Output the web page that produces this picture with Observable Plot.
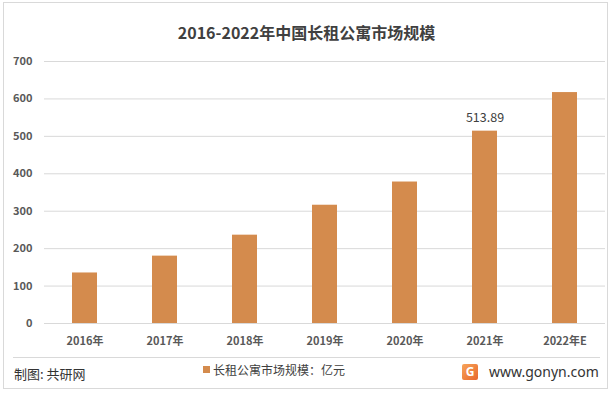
<!DOCTYPE html>
<html>
<head>
<meta charset="utf-8">
<script src="https://cdn.jsdelivr.net/npm/d3@7"></script>
<script src="https://cdn.jsdelivr.net/npm/@observablehq/plot@0.6"></script>
<style>
  html, body { margin: 0; padding: 0; background: #fff; }
  #wrap { position: relative; width: 613px; height: 394px; overflow: hidden; font-family: "Noto Sans CJK SC", "Noto Sans", sans-serif; }
  #frame { position: absolute; left: 3px; top: 2px; width: 605px; height: 387px; border: 1px solid #d9d9d9; box-sizing: border-box; }
  #title { position: absolute; left: 0; width: 613px; top: 20px; text-align: center; font-size: 16px; font-weight: bold; color: #404040; line-height: 24px; }
  #plot { position: absolute; left: 0; top: 0; }
  #sep { position: absolute; left: 13px; top: 357px; width: 587px; height: 1px; background: #d9d9d9; }
  #credit { position: absolute; left: 14px; top: 365px; font-size: 13px; color: #333; line-height: 18px; }
  #legend { position: absolute; left: 203px; top: 361px; font-size: 12px; color: #404040; line-height: 17px; display: flex; align-items: center; }
  #legend .sw { width: 7px; height: 7px; background: #D48B4D; margin-right: 3px; }
  #site { position: absolute; left: 462px; top: 362px; font-size: 14px; color: #333; line-height: 20px; display: flex; align-items: center; font-family: "Noto Sans", sans-serif; }
  #site .logo { width: 16px; height: 16px; background: linear-gradient(135deg, #f7a45a, #e8662a); color: #fff; font-weight: bold; font-size: 12px; line-height: 16px; text-align: center; margin-right: 11px; border-radius: 2px; }
</style>
</head>
<body>
<div id="wrap">
  <div id="frame"></div>
  <div id="plot"></div>
  <div id="title">2016-2022年中国长租公寓市场规模</div>
  <div id="sep"></div>
  <div id="credit">制图: 共研网</div>
  <div id="legend"><span class="sw"></span><span>长租公寓市场规模：亿元</span></div>
  <div id="site"><span class="logo">G</span><span>www.gonyn.com</span></div>
</div>
<script>
const years = ["2016年", "2017年", "2018年", "2019年", "2020年", "2021年", "2022年E"];
const values = [135, 180, 236, 316, 378, 513.89, 617];
const yTicks = [0, 100, 200, 300, 400, 500, 600, 700];
const labeledYear = "2021年";
const labeledText = "513.89";

const data = years.map((y, i) => ({year: y, value: values[i]}));
const labelData = data.filter(d => d.year === labeledYear);

const chart = Plot.plot({
  width: 613,
  height: 394,
  marginTop: 61,
  marginBottom: 71,
  marginLeft: 44,
  marginRight: 8,
  style: {fontFamily: "'Noto Sans CJK SC', 'Noto Sans', sans-serif", background: "transparent", color: "#595959"},
  x: {domain: years, paddingInner: 0.69, paddingOuter: 0.345, label: null},
  y: {domain: [0, 700], label: null},
  marks: [
    Plot.gridY(yTicks, {stroke: "#d9d9d9", strokeOpacity: 1}),
    Plot.barY(data, {x: "year", y: "value", fill: "#D48B4D"}),
    Plot.text(labelData, {x: "year", y: "value", text: () => labeledText, dy: -13, fontSize: 12.5, fill: "#404040"}),
    Plot.axisY({ticks: yTicks, tickSize: 0, tickPadding: 12, fontSize: 11, fontWeight: "bold", fill: "#595959", label: null}),
    Plot.axisX({tickSize: 0, tickPadding: 14, fontSize: 11, fontWeight: "bold", fill: "#595959", label: null})
  ]
});
document.getElementById("plot").appendChild(chart);
</script>
</body>
</html>
